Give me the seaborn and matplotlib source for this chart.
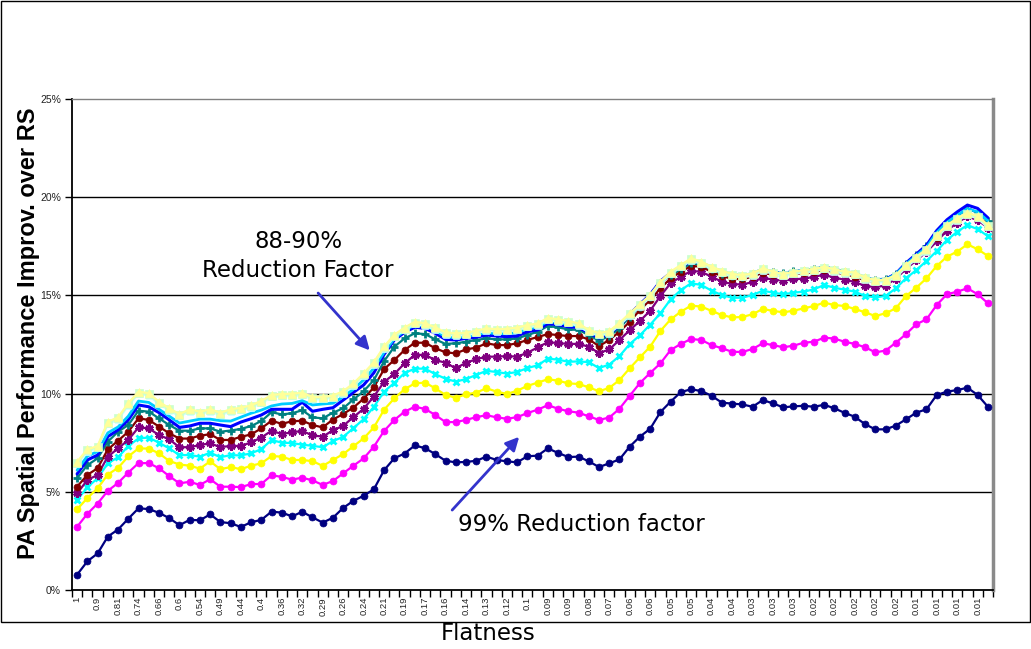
import numpy as np
import matplotlib
matplotlib.use("Agg")
import matplotlib.pyplot as plt
from matplotlib.patches import Rectangle
import seaborn as sns

# Flatness category labels (one label for every second category)
flatness_labels = ["1", "0.9", "0.81", "0.74", "0.66", "0.6", "0.54", "0.49", "0.44", "0.4",
                   "0.36", "0.32", "0.29", "0.26", "0.24", "0.21", "0.19", "0.17", "0.16", "0.14",
                   "0.13", "0.12", "0.1", "0.09", "0.09", "0.08", "0.07", "0.06", "0.06", "0.05",
                   "0.05", "0.04", "0.04", "0.03", "0.03", "0.03", "0.02", "0.02", "0.02", "0.02",
                   "0.02", "0.01", "0.01", "0.01", "0.01"]

y_ticks = [0, 5, 10, 15, 20, 25]

# PA spatial performance improvement over RS (%), one series per reduction factor
rf99 = [0.78, 1.46, 1.86, 2.72, 3.08, 3.63, 4.16, 4.12, 3.93, 3.66,
        3.30, 3.57, 3.55, 3.85, 3.46, 3.40, 3.21, 3.45, 3.57, 3.99,
        3.94, 3.75, 3.98, 3.70, 3.43, 3.68, 4.18, 4.54, 4.80, 5.13,
        6.10, 6.71, 6.95, 7.36, 7.22, 6.92, 6.58, 6.50, 6.52, 6.58,
        6.79, 6.62, 6.55, 6.50, 6.81, 6.84, 7.21, 6.98, 6.77, 6.79,
        6.55, 6.26, 6.45, 6.65, 7.30, 7.81, 8.21, 9.06, 9.59, 10.08,
        10.22, 10.13, 9.89, 9.54, 9.49, 9.45, 9.33, 9.67, 9.50, 9.30,
        9.35, 9.38, 9.33, 9.43, 9.25, 9.02, 8.82, 8.44, 8.18, 8.18,
        8.37, 8.69, 9.03, 9.20, 9.93, 10.10, 10.18, 10.30, 9.93, 9.33]

rf98 = [3.22, 3.88, 4.40, 5.05, 5.45, 5.98, 6.46, 6.46, 6.20, 5.80,
        5.43, 5.51, 5.35, 5.64, 5.26, 5.26, 5.24, 5.39, 5.40, 5.84,
        5.76, 5.62, 5.72, 5.58, 5.35, 5.55, 5.94, 6.33, 6.70, 7.30,
        8.10, 8.66, 9.08, 9.33, 9.22, 8.91, 8.55, 8.55, 8.66, 8.80,
        8.90, 8.79, 8.72, 8.80, 9.01, 9.18, 9.41, 9.23, 9.10, 9.03,
        8.84, 8.66, 8.78, 9.23, 9.89, 10.54, 11.05, 11.54, 12.22, 12.53,
        12.78, 12.73, 12.47, 12.31, 12.13, 12.12, 12.27, 12.56, 12.47, 12.36,
        12.44, 12.59, 12.64, 12.85, 12.80, 12.64, 12.53, 12.36, 12.10, 12.19,
        12.59, 13.03, 13.53, 13.78, 14.51, 15.06, 15.19, 15.36, 15.06, 14.60]

rf97 = [4.11, 4.68, 5.18, 5.88, 6.22, 6.80, 7.21, 7.20, 6.96, 6.57,
        6.39, 6.33, 6.18, 6.55, 6.15, 6.26, 6.15, 6.33, 6.45, 6.82,
        6.79, 6.62, 6.62, 6.56, 6.32, 6.62, 6.92, 7.32, 7.72, 8.28,
        9.18, 9.76, 10.22, 10.52, 10.56, 10.27, 9.93, 9.79, 9.96, 10.05,
        10.27, 10.10, 9.98, 10.15, 10.39, 10.56, 10.73, 10.66, 10.52, 10.49,
        10.32, 10.12, 10.29, 10.69, 11.29, 11.85, 12.39, 13.19, 13.78, 14.17,
        14.48, 14.43, 14.21, 14.00, 13.88, 13.90, 14.04, 14.31, 14.21, 14.14,
        14.22, 14.34, 14.46, 14.63, 14.51, 14.46, 14.31, 14.14, 13.95, 14.09,
        14.34, 14.97, 15.39, 15.87, 16.50, 16.97, 17.23, 17.60, 17.35, 17.01]

rf96 = [4.58, 5.23, 5.69, 6.45, 6.76, 7.33, 7.72, 7.76, 7.50, 7.21,
        6.87, 6.87, 6.79, 6.99, 6.76, 6.87, 6.85, 6.96, 7.17, 7.64,
        7.50, 7.48, 7.40, 7.34, 7.27, 7.58, 7.80, 8.24, 8.70, 9.33,
        10.10, 10.55, 11.05, 11.27, 11.27, 10.99, 10.76, 10.61, 10.74, 10.95,
        11.16, 11.10, 11.02, 11.10, 11.30, 11.44, 11.78, 11.73, 11.62, 11.64,
        11.60, 11.30, 11.48, 11.91, 12.52, 12.97, 13.51, 14.09, 14.80, 15.27,
        15.62, 15.53, 15.24, 15.02, 14.88, 14.88, 15.02, 15.24, 15.14, 15.06,
        15.14, 15.19, 15.31, 15.53, 15.39, 15.29, 15.19, 14.97, 14.90, 14.97,
        15.36, 15.87, 16.29, 16.75, 17.26, 17.82, 18.24, 18.58, 18.37, 18.02]

rf95 = [4.92, 5.60, 5.86, 6.79, 7.21, 7.64, 8.28, 8.23, 7.89, 7.67,
        7.27, 7.27, 7.38, 7.47, 7.27, 7.34, 7.33, 7.52, 7.76, 8.11,
        7.94, 8.03, 8.10, 7.87, 7.81, 8.13, 8.36, 8.80, 9.23, 9.85,
        10.60, 11.00, 11.54, 11.97, 11.97, 11.71, 11.57, 11.29, 11.57, 11.75,
        11.88, 11.88, 11.91, 11.88, 12.08, 12.35, 12.62, 12.57, 12.53, 12.53,
        12.39, 12.06, 12.25, 12.73, 13.23, 13.70, 14.22, 14.97, 15.62, 15.95,
        16.25, 16.20, 15.95, 15.70, 15.58, 15.55, 15.68, 15.90, 15.80, 15.75,
        15.82, 15.85, 15.95, 16.05, 15.90, 15.80, 15.68, 15.48, 15.42, 15.50,
        15.85, 16.35, 16.78, 17.22, 17.75, 18.30, 18.70, 19.02, 18.83, 18.45]

rf94 = [5.26, 5.86, 6.20, 7.16, 7.60, 8.06, 8.74, 8.66, 8.32, 7.98,
        7.71, 7.71, 7.86, 7.93, 7.64, 7.64, 7.80, 7.92, 8.23, 8.62,
        8.46, 8.59, 8.62, 8.40, 8.28, 8.68, 8.96, 9.29, 9.74, 10.32,
        11.25, 11.71, 12.22, 12.59, 12.59, 12.31, 12.10, 12.05, 12.25, 12.34,
        12.56, 12.47, 12.47, 12.56, 12.73, 12.88, 13.03, 12.98, 12.93, 12.93,
        12.76, 12.42, 12.73, 13.15, 13.66, 14.26, 14.77, 15.36, 15.87, 16.21,
        16.50, 16.46, 16.20, 15.98, 15.85, 15.83, 15.95, 16.15, 16.06, 16.02,
        16.10, 16.12, 16.20, 16.30, 16.18, 16.08, 15.96, 15.76, 15.70, 15.80,
        15.98, 16.50, 16.92, 17.38, 17.92, 18.47, 18.86, 19.18, 19.00, 18.62]

rf93 = [5.69, 6.36, 6.70, 7.55, 8.06, 8.40, 9.13, 9.08, 8.74, 8.40,
        8.11, 8.11, 8.23, 8.23, 8.06, 8.12, 8.20, 8.35, 8.60, 9.05,
        8.94, 9.00, 9.15, 8.79, 8.74, 9.03, 9.25, 9.70, 10.12, 10.69,
        11.65, 12.39, 12.81, 13.07, 13.03, 12.76, 12.53, 12.56, 12.64, 12.73,
        12.81, 12.76, 12.76, 12.81, 12.98, 13.15, 13.44, 13.37, 13.27, 13.24,
        12.98, 12.69, 12.93, 13.32, 13.92, 14.43, 14.94, 15.62, 16.04, 16.33,
        16.63, 16.58, 16.33, 16.10, 15.97, 15.95, 16.07, 16.27, 16.18, 16.14,
        16.22, 16.24, 16.32, 16.42, 16.30, 16.20, 16.08, 15.88, 15.80, 15.85,
        16.08, 16.62, 17.05, 17.50, 18.10, 18.65, 19.05, 19.40, 19.22, 18.80]

rf92 = [5.91, 6.62, 6.87, 7.81, 8.15, 8.66, 9.42, 9.33, 9.03, 8.66,
        8.28, 8.35, 8.49, 8.49, 8.40, 8.32, 8.55, 8.72, 8.91, 9.20,
        9.20, 9.20, 9.56, 9.10, 9.20, 9.28, 9.67, 10.06, 10.44, 11.06,
        12.00, 12.73, 13.12, 13.38, 13.32, 13.07, 12.76, 12.73, 12.81, 12.87,
        12.98, 12.93, 12.90, 12.93, 13.15, 13.24, 13.56, 13.50, 13.40, 13.36,
        13.10, 12.82, 13.05, 13.45, 14.05, 14.55, 15.05, 15.72, 16.15, 16.45,
        16.75, 16.65, 16.40, 16.20, 16.03, 16.00, 16.10, 16.33, 16.20, 16.12,
        16.22, 16.27, 16.33, 16.45, 16.32, 16.22, 16.12, 15.90, 15.80, 15.82,
        16.10, 16.65, 17.10, 17.55, 18.30, 18.85, 19.25, 19.60, 19.43, 18.95]

rf91 = [6.10, 6.82, 7.05, 8.00, 8.30, 8.85, 9.62, 9.55, 9.20, 8.85,
        8.50, 8.60, 8.70, 8.70, 8.62, 8.60, 8.80, 9.00, 9.16, 9.37,
        9.47, 9.50, 9.64, 9.42, 9.47, 9.51, 9.84, 10.22, 10.70, 11.30,
        12.10, 12.80, 13.20, 13.50, 13.45, 13.20, 12.90, 12.85, 12.92, 13.00,
        13.10, 13.05, 13.05, 13.10, 13.30, 13.38, 13.68, 13.62, 13.52, 13.45,
        13.15, 12.95, 13.10, 13.50, 14.05, 14.50, 15.00, 15.65, 16.15, 16.48,
        16.82, 16.68, 16.43, 16.23, 16.06, 16.02, 16.11, 16.35, 16.20, 16.10,
        16.21, 16.28, 16.33, 16.45, 16.32, 16.22, 16.14, 15.91, 15.79, 15.80,
        16.08, 16.60, 17.03, 17.45, 18.20, 18.72, 19.08, 19.42, 19.25, 18.80]

rf90 = [6.41, 7.04, 7.21, 8.45, 8.67, 9.39, 9.98, 9.90, 9.47, 9.13,
        8.84, 9.08, 8.96, 9.08, 8.91, 9.08, 9.16, 9.28, 9.51, 9.81,
        9.86, 9.88, 9.92, 9.71, 9.71, 9.78, 10.00, 10.40, 10.91, 11.48,
        12.28, 12.88, 13.24, 13.54, 13.46, 13.25, 13.00, 12.95, 12.98, 13.08,
        13.20, 13.16, 13.18, 13.24, 13.37, 13.45, 13.74, 13.66, 13.58, 13.45,
        13.12, 12.96, 13.06, 13.48, 13.97, 14.43, 14.90, 15.58, 16.09, 16.43,
        16.77, 16.60, 16.34, 16.14, 15.97, 15.92, 16.00, 16.26, 16.09, 15.97,
        16.09, 16.17, 16.22, 16.34, 16.21, 16.10, 16.04, 15.80, 15.66, 15.68,
        15.92, 16.43, 16.85, 17.23, 17.96, 18.46, 18.80, 19.09, 18.92, 18.46]

rf89 = [6.48, 7.11, 7.28, 8.52, 8.74, 9.46, 10.05, 9.97, 9.54, 9.20,
        8.91, 9.15, 9.03, 9.15, 8.98, 9.15, 9.23, 9.35, 9.58, 9.88,
        9.93, 9.95, 9.99, 9.78, 9.78, 9.85, 10.07, 10.47, 10.98, 11.55,
        12.35, 12.95, 13.31, 13.61, 13.53, 13.32, 13.07, 13.02, 13.05, 13.15,
        13.27, 13.23, 13.25, 13.31, 13.44, 13.52, 13.81, 13.73, 13.65, 13.52,
        13.19, 13.03, 13.13, 13.55, 14.04, 14.50, 14.97, 15.65, 16.16, 16.50,
        16.84, 16.67, 16.41, 16.21, 16.04, 15.99, 16.07, 16.33, 16.16, 16.04,
        16.16, 16.24, 16.29, 16.41, 16.28, 16.17, 16.11, 15.87, 15.73, 15.75,
        15.99, 16.50, 16.92, 17.30, 18.03, 18.53, 18.87, 19.16, 18.99, 18.53]

rf88 = [6.53, 7.16, 7.33, 8.57, 8.79, 9.51, 10.10, 10.02, 9.59, 9.25,
        8.96, 9.20, 9.08, 9.20, 9.03, 9.20, 9.28, 9.40, 9.63, 9.93,
        9.98, 10.00, 10.04, 9.83, 9.83, 9.90, 10.12, 10.52, 11.03, 11.60,
        12.40, 13.00, 13.36, 13.66, 13.58, 13.37, 13.12, 13.07, 13.10, 13.20,
        13.32, 13.28, 13.30, 13.36, 13.49, 13.57, 13.86, 13.78, 13.70, 13.57,
        13.24, 13.08, 13.18, 13.60, 14.09, 14.55, 15.02, 15.70, 16.21, 16.55,
        16.89, 16.72, 16.46, 16.26, 16.09, 16.04, 16.12, 16.38, 16.21, 16.09,
        16.21, 16.29, 16.34, 16.46, 16.33, 16.22, 16.16, 15.92, 15.78, 15.80,
        16.04, 16.55, 16.97, 17.35, 18.08, 18.58, 18.92, 19.21, 19.04, 18.58]

# Drawing styles: (values, colour, marker, marker size, marker edge width, line width)
series_styles = [
    (rf99, "#000080", "o", 5.0, 0.5, 1.6),
    (rf98, "#FF00FF", "o", 5.0, 0.5, 1.6),
    (rf97, "#FFFF00", "o", 5.0, 0.5, 1.6),
    (rf96, "#00FFFF", "x", 5.0, 2.0, 1.6),
    (rf95, "#800080", (6, 2, 0), 6.0, 2.0, 1.6),
    (rf94, "#800000", "o", 5.0, 0.5, 1.6),
    (rf93, "#008080", "+", 6.0, 2.0, 1.6),
    (rf92, "#0000FF", None, 0.0, 0.0, 2.2),
    (rf91, "#00CCFF", None, 0.0, 0.0, 2.0),
    (rf90, "#CCFFFF", "s", 4.5, 0.5, 1.6),
    (rf89, "#CCFFCC", "s", 5.5, 0.5, 1.6),
    (rf88, "#FFFF99", "^", 6.0, 0.5, 1.6),
]

W, H = 1031, 649
sns.set_theme(style="white")
plt.rcParams["font.family"] = ["Liberation Sans", "DejaVu Sans"]

fig = plt.figure(figsize=(W / 100, H / 100), dpi=100)
fig.patch.set_facecolor("white")
ax = fig.add_axes([72 / W, (H - 590) / H, (993 - 72) / W, (590 - 99) / H])
ax.set_facecolor("white")

x = np.arange(len(rf99))
for z, (vals, color, marker, ms, mew, lw) in enumerate(series_styles):
    kw = dict(x=x, y=vals, ax=ax, color=color, linewidth=lw, zorder=3 + z)
    if marker is not None:
        kw.update(marker=marker, markersize=ms, markeredgecolor=color,
                  markerfacecolor=color, markeredgewidth=mew)
    sns.lineplot(**kw)

# horizontal gridlines
for yv in y_ticks[1:-1]:
    ax.axhline(yv, color="black", lw=1.0, zorder=1)

ax.set_xlim(-0.5, len(x) - 0.5)
ax.set_ylim(y_ticks[0], y_ticks[-1])
ax.set_yticks(y_ticks)
ax.set_yticklabels([f"{v}%" for v in y_ticks], fontsize=7.5, color="#222222")
ax.set_xticks(np.arange(0, len(x), 2))
ax.set_xticklabels(flatness_labels, rotation=90, fontsize=6.8, color="#222222")
ax.set_xticks(np.arange(-0.5, len(x), 1), minor=True)
ax.tick_params(axis="x", which="major", length=0, pad=5)
ax.tick_params(axis="x", which="minor", length=5, width=1, color="black", direction="out", bottom=True)
ax.tick_params(axis="y", which="major", length=5, width=1, color="black", direction="out", left=True, pad=3)
ax.set_xlabel("")
ax.set_ylabel("")

for side in ["left", "bottom"]:
    ax.spines[side].set_color("black")
    ax.spines[side].set_linewidth(1.3)
ax.spines["top"].set_color("#808080")
ax.spines["top"].set_linewidth(1.0)
ax.spines["right"].set_color("#8a8a8a")
ax.spines["right"].set_linewidth(2.5)

# axis titles
fig.text(29 / W, 1 - 333 / H, "PA Spatial Performance Improv. over RS", rotation=90,
         ha="center", va="center", fontsize=17, fontweight="bold", color="black")
fig.text(488 / W, 1 - 634 / H, "Flatness", ha="center", va="center",
         fontsize=16.5, family=["DejaVu Sans"], color="black")

# callouts
arrow_color = "#3333CC"
ax.text(21.6, 17.0, "88-90%\nReduction Factor", ha="center", va="center",
        multialignment="center", fontsize=16.5, family=["DejaVu Sans"],
        linespacing=1.3, color="black", zorder=20)
ax.annotate("", xy=(28.6, 12.2), xytext=(23.55, 15.12),
            arrowprops=dict(arrowstyle="-|>", color=arrow_color, lw=2,
                            mutation_scale=20, shrinkA=0, shrinkB=0), zorder=20)
ax.text(49.3, 3.31, "99% Reduction factor", ha="center", va="center",
        fontsize=16.5, family=["DejaVu Sans"], color="black", zorder=20)
ax.annotate("", xy=(43.2, 7.8), xytext=(36.65, 4.07),
            arrowprops=dict(arrowstyle="-|>", color=arrow_color, lw=2,
                            mutation_scale=20, shrinkA=0, shrinkB=0), zorder=20)

# chart-area frame
fig.add_artist(Rectangle((0.5 / W, 27 / H), 1029 / W, (H - 27.5) / H,
                         transform=fig.transFigure, fill=False,
                         edgecolor="black", lw=1.0))

fig.savefig("out.png", dpi=100, facecolor="white")
